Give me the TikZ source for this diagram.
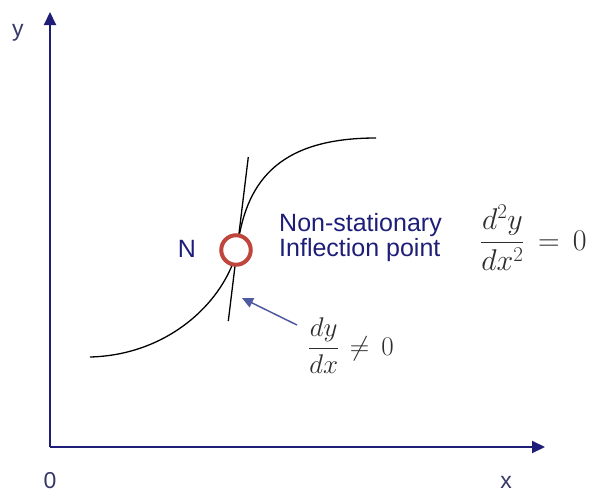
\RequirePackage{fix-cm}
\documentclass[tikz,border=0pt]{standalone}
\usepackage{fontspec}
\setmainfont{Liberation Sans}
\usetikzlibrary{arrows.meta}
\definecolor{navy}{RGB}{30,30,120}
\definecolor{labelc}{RGB}{55,55,105}
\definecolor{ringred}{RGB}{190,70,60}
\definecolor{arrowc}{RGB}{80,90,160}
\definecolor{mathc}{RGB}{45,45,45}
\tikzset{
  axis/.style={draw=navy, line width=2pt, -{Triangle[length=13pt,width=12pt]}},
  lbl/.style={text=labelc, font=\fontsize{23}{25}\selectfont, inner sep=0pt},
  txt/.style={text=navy, font=\fontsize{25}{25}\selectfont, inner sep=0pt},
  mth/.style={text=mathc, inner sep=0pt, anchor=base west},
  curve/.style={draw=black, line width=1.3pt},
  ring/.style={draw=ringred, line width=4pt, fill=white},
  pointer/.style={draw=arrowc, line width=1.5pt, -{Triangle[length=11pt,width=10pt]}}
}
\begin{document}
\begin{tikzpicture}[x=1pt,y=-1pt]
\useasboundingbox (0,0) rectangle (599,493);
% axes
\coordinate (O) at (50,447);
\coordinate (ytop) at (50,12);
\coordinate (xend) at (545,447);
\draw[axis] (O) -- (ytop);
\draw[axis] (O) -- (xend);
\node[lbl] (ylab) at (18,33) {y};
\node[lbl] (zlab) at (50,481) {0};
\node[lbl] (xlab) at (506,482) {x};
% curve
\coordinate (c0) at (90,357);
\coordinate (ip) at (237,250);
\coordinate (c1) at (376,138);
\draw[curve] (c0) .. controls (170,355) and (225,300) .. (ip)
             .. controls (245,185) and (275,138) .. (c1);
% tangent
\coordinate (t1) at (248.3,157);
\coordinate (t2) at (228.3,321);
\draw[curve] (t1) -- (t2);
% ring
\node[ring, circle, minimum size=29.5pt, inner sep=0pt] (N) at (236,250) {};
\node[txt] (Nlab) at (187,249) {N};
\node[txt, align=left, anchor=west] (desc) at (279,238) {Non-stationary\\Inflection point};
% math
\node[mth, font=\fontsize{30}{32}\selectfont] (d2) at (480,250) {$\displaystyle\frac{d^2y}{dx^2}\mkern3mu=\mkern3mu0$};
\node[mth, font=\fontsize{27}{29}\selectfont] (d1) at (308,355) {$\displaystyle\frac{dy}{dx}\mkern2mu\neq\mkern3mu0$};
\coordinate (tail) at (297,325);
\coordinate (head) at (242,298);
\draw[pointer] (tail) -- (head);
\end{tikzpicture}
\end{document}
